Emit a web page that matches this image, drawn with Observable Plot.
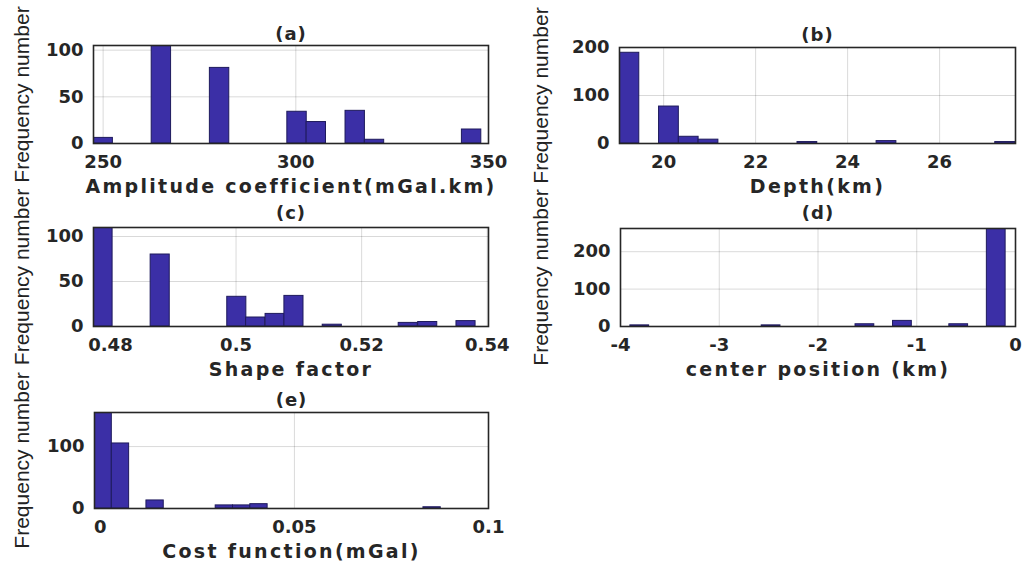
<!DOCTYPE html>
<html>
<head>
<meta charset="utf-8">
<script src="https://cdn.jsdelivr.net/npm/d3@7"></script>
<script src="https://cdn.jsdelivr.net/npm/@observablehq/plot@0.6"></script>
<style>
html, body { margin: 0; padding: 0; background: #fff; }
#chart { position: relative; width: 1022px; height: 566px; overflow: hidden; background: #fff; }
#chart svg { position: absolute; overflow: visible; }
</style>
</head>
<body>
<div id="chart"></div>
<script>
// ---------- Data ----------
// (a) Amplitude coefficient
const ampEdges  = [247.5, 262.6, 277.7, 297.8, 302.8, 312.9, 317.9, 343.1];
const ampCounts = [6, 108, 81, 34, 23, 35, 4, 15];
const ampBinWidth = 5.03;
const ampXTicks = [250, 300, 350];
const ampYTicks = [0, 50, 100];

// (b) Depth
const depthEdges  = [19.04, 19.90, 20.33, 20.76, 22.91, 24.63, 27.21];
const depthCounts = [189, 77, 14, 8, 3, 5, 3];
const depthBinWidth = 0.43;
const depthXTicks = [20, 22, 24, 26];
const depthYTicks = [0, 100, 200];

// (c) Shape factor
const shapeEdges  = [0.4773, 0.4864, 0.4986, 0.5016, 0.5047, 0.5077, 0.5138, 0.5259, 0.5290, 0.5351];
const shapeCounts = [115, 80, 33, 10, 14, 34, 2, 4, 5, 6];
const shapeBinWidth = 0.00304;
const shapeXTicks = [0.48, 0.5, 0.52, 0.54];
const shapeYTicks = [0, 50, 100];

// (d) Center position
const centerEdges  = [-3.9, -2.57, -1.62, -1.24, -0.67, -0.29];
const centerCounts = [3, 3, 6, 15, 6, 267];
const centerBinWidth = 0.19;
const centerXTicks = [-4, -3, -2, -1, 0];
const centerYTicks = [0, 100, 200];

// (e) Cost function
const costEdges  = [-0.0015, 0.00296, 0.01188, 0.02972, 0.03418, 0.03864, 0.08324];
const costCounts = [158, 105, 13, 5, 5, 7, 2];
const costBinWidth = 0.00446;
const costXTicks = [0, 0.05, 0.1];
const costYTicks = [0, 100];

const titles  = ["(a)", "(b)", "(c)", "(d)", "(e)"];
const xLabels = ["Amplitude coefficient(mGal.km)", "Depth(km)", "Shape factor", "center position (km)", "Cost function(mGal)"];
const yLabel  = "Frequency number";

// ---------- Layout ----------
const panels = [
  {title: titles[0], xlabel: xLabels[0], edges: ampEdges, counts: ampCounts, bw: ampBinWidth,
   xDomain: [247.5, 350], yDomain: [0, 105], xTicks: ampXTicks, yTicks: ampYTicks,
   box: {x: 0, y: 0, w: 515, h: 190}, frame: {l: 93, r: 488, t: 45, b: 143}, titleGap: 11, yLabelX: 22},
  {title: titles[1], xlabel: xLabels[1], edges: depthEdges, counts: depthCounts, bw: depthBinWidth,
   xDomain: [19.04, 27.65], yDomain: [0, 200], xTicks: depthXTicks, yTicks: depthYTicks,
   box: {x: 515, y: 0, w: 507, h: 190}, frame: {l: 619, r: 1015, t: 47, b: 143}, titleGap: 12, yLabelX: 541},
  {title: titles[2], xlabel: xLabels[2], edges: shapeEdges, counts: shapeCounts, bw: shapeBinWidth,
   xDomain: [0.4773, 0.5402], yDomain: [0, 110], xTicks: shapeXTicks, yTicks: shapeYTicks,
   box: {x: 0, y: 190, w: 515, h: 190}, frame: {l: 93, r: 488, t: 227, b: 326}, titleGap: 14, yLabelX: 22},
  {title: titles[3], xlabel: xLabels[3], edges: centerEdges, counts: centerCounts, bw: centerBinWidth,
   xDomain: [-4, 0], yDomain: [0, 262], xTicks: centerXTicks, yTicks: centerYTicks,
   box: {x: 515, y: 190, w: 507, h: 190}, frame: {l: 620, r: 1015, t: 228, b: 326}, titleGap: 15, yLabelX: 541},
  {title: titles[4], xlabel: xLabels[4], edges: costEdges, counts: costCounts, bw: costBinWidth,
   xDomain: [-0.0015, 0.1], yDomain: [0, 155], xTicks: costXTicks, yTicks: costYTicks,
   box: {x: 0, y: 380, w: 515, h: 186}, frame: {l: 94, r: 488, t: 412, b: 508}, titleGap: 12, yLabelX: 22}
];

const chart = document.getElementById("chart");
const ink = "#262626";

for (const p of panels) {
  const data = p.edges.map((e, i) => ({x1: e, x2: e + p.bw, count: p.counts[i]}));
  const {box, frame} = p;
  const svg = Plot.plot({
    width: box.w,
    height: box.h,
    marginLeft: frame.l - box.x,
    marginRight: box.x + box.w - frame.r,
    marginTop: frame.t - box.y,
    marginBottom: box.y + box.h - frame.b,
    x: {domain: p.xDomain},
    y: {domain: p.yDomain},
    style: {
      fontFamily: "'DejaVu Sans', sans-serif",
      fontSize: "18px",
      fontWeight: "bold",
      color: ink,
      background: "transparent",
      overflow: "visible"
    },
    marks: [
      Plot.gridX(p.xTicks, {stroke: "#000", strokeOpacity: 0.15}),
      Plot.gridY(p.yTicks, {stroke: "#000", strokeOpacity: 0.15}),
      Plot.rectY(data, {x1: "x1", x2: "x2", y: "count", fill: "#3b2fa6", stroke: "#1e1a5c", strokeWidth: 1, clip: true}),
      Plot.frame({stroke: ink, strokeWidth: 1.6}),
      Plot.axisX(p.xTicks, {tickSize: 0, tickPadding: 12, label: null, tickFormat: (d) => String(d)}),
      Plot.axisY(p.yTicks, {tickSize: 0, tickPadding: 10, label: null, tickFormat: (d) => String(d)}),
      Plot.text([p.title], {frameAnchor: "top", dy: -p.titleGap, lineAnchor: "middle", textAnchor: "middle",
        fontSize: 18, fontWeight: "bold", fill: ink}),
      Plot.text([p.xlabel], {frameAnchor: "bottom", dy: 43, lineAnchor: "middle", textAnchor: "middle",
        fontSize: 19, fontWeight: "bold", fill: ink}),
      Plot.text([yLabel], {frameAnchor: "left", dx: -(frame.l - p.yLabelX), rotate: -90, lineAnchor: "middle",
        textAnchor: "middle", fontSize: 21, fontWeight: "normal", fontFamily: "'Liberation Sans', Arial, sans-serif",
        fill: "#222"})
    ]
  });
  svg.style.left = box.x + "px";
  svg.style.top = box.y + "px";
  svg.querySelectorAll("text").forEach(t => {
    const s = t.textContent;
    if (s === p.xlabel) { t.style.letterSpacing = "2.3px"; }
    else if (s === p.title) { t.style.letterSpacing = "1px"; }
  });
  chart.appendChild(svg);
}
</script>
</body>
</html>
